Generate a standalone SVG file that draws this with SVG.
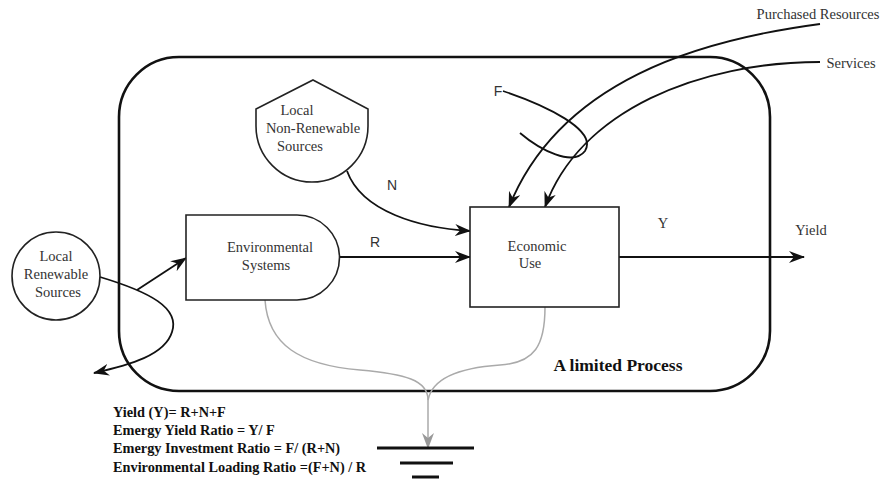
<svg xmlns="http://www.w3.org/2000/svg" width="880" height="479" viewBox="0 0 880 479">
<defs>
<marker id="ah" viewBox="0 0 16 12" refX="15" refY="6" markerWidth="16" markerHeight="12" markerUnits="userSpaceOnUse" orient="auto"><path d="M0,0 L16,6 L0,12 L5,6 z" fill="#111"/></marker>
<marker id="ahg" viewBox="0 0 16 12" refX="15" refY="6" markerWidth="16" markerHeight="12" markerUnits="userSpaceOnUse" orient="auto"><path d="M0,0 L16,6 L0,12 L5,6 z" fill="#999"/></marker>
</defs>
<style>
.shape{fill:#fff;stroke:#222;stroke-width:1.6}
.t{font-family:"Liberation Serif","Times New Roman",serif;font-size:14.5px;fill:#333;text-anchor:middle}
.s{font-family:"Liberation Sans",Arial,sans-serif;font-size:14px;fill:#333;text-anchor:middle}
.b{font-family:"Liberation Serif","Times New Roman",serif;font-weight:bold;fill:#111}
.c{fill:none;stroke:#111;stroke-width:1.8}
.g{fill:none;stroke:#aaa;stroke-width:1.5}
.gnd{stroke:#111;stroke-width:3}
</style>
<rect width="880" height="479" fill="#fff"/>
<g id="boundary">
<rect x="119" y="57" width="651" height="334" rx="60" ry="60" fill="none" stroke="#111" stroke-width="2.6"/>
<text class="b" x="618" y="371" font-size="17.5" text-anchor="middle">A limited Process</text>
</g>
<g id="connectors">
<path class="c" d="M100,277 C150,292 180,308 172,332 C165,355 130,365 94,373" marker-end="url(#ah)"/>
<path class="c" d="M137,290 L186,258" marker-end="url(#ah)"/>
<path class="c" d="M340,257 L470,257" marker-end="url(#ah)"/>
<path class="c" d="M347,171 C362,212 420,228 470,231" marker-end="url(#ah)"/>
<path class="c" d="M619,257 L804,257" marker-end="url(#ah)"/>
<path class="c" d="M820,24 C700,40 560,80 509,207" marker-end="url(#ah)"/>
<path class="c" d="M820,62 C700,62 580,110 545,207" marker-end="url(#ah)"/>
<path class="c" d="M503,91 C545,105 598,130 585,151 C573,167 540,150 520,133"/>
<path class="g" d="M265,300 C268,345 300,365 360,370 C405,374 428,380 428,400 L428,448" marker-end="url(#ahg)"/>
<path class="g" d="M545,307 C545,345 535,363 500,365 C455,368 432,380 428,400"/>
<text class="s" x="375" y="247">R</text>
<text class="s" x="392" y="190">N</text>
<text class="s" x="498" y="96">F</text>
<text class="t" x="663" y="228">Y</text>
<text class="t" x="811" y="235">Yield</text>
<text class="t" x="818" y="19" font-size="14">Purchased Resources</text>
<text class="t" x="851" y="68" font-size="14">Services</text>
</g>
<g id="renewable">
<circle class="shape" cx="56" cy="276" r="44"/>
<text class="t" x="56" y="261">Local</text>
<text class="t" x="56" y="279">Renewable</text>
<text class="t" x="58" y="297">Sources</text>
</g>
<g id="nonrenewable">
<path class="shape" d="M313,80 L368,109 L368,126 A56,56 0 0 1 256,126 L256,109 Z"/>
<text class="t" x="297" y="115">Local</text>
<text class="t" x="313" y="133">Non-Renewable</text>
<text class="t" x="300" y="151">Sources</text>
</g>
<g id="environmental">
<path class="shape" d="M186,215 H297 A42.5,42.5 0 0 1 297,300 H186 Z"/>
<text class="t" x="270" y="252">Environmental</text>
<text class="t" x="266" y="270">Systems</text>
</g>
<g id="economic">
<rect class="shape" x="470" y="207" width="149" height="100"/>
<text class="t" x="537" y="251">Economic</text>
<text class="t" x="530" y="268">Use</text>
</g>
<g id="ground">
<line class="gnd" x1="377" y1="448" x2="474" y2="448"/>
<line class="gnd" x1="400" y1="463" x2="453" y2="463"/>
<line class="gnd" x1="412" y1="477" x2="439" y2="477" stroke-width="4"/>
</g>
<g id="formulas" class="b" font-size="14.3">
<text x="113" y="417">Yield (Y)= R+N+F</text>
<text x="113" y="435">Emergy Yield Ratio = Y/ F</text>
<text x="113" y="453">Emergy Investment Ratio = F/ (R+N)</text>
<text x="113" y="472">Environmental Loading Ratio =(F+N) / R</text>
</g>
</svg>
